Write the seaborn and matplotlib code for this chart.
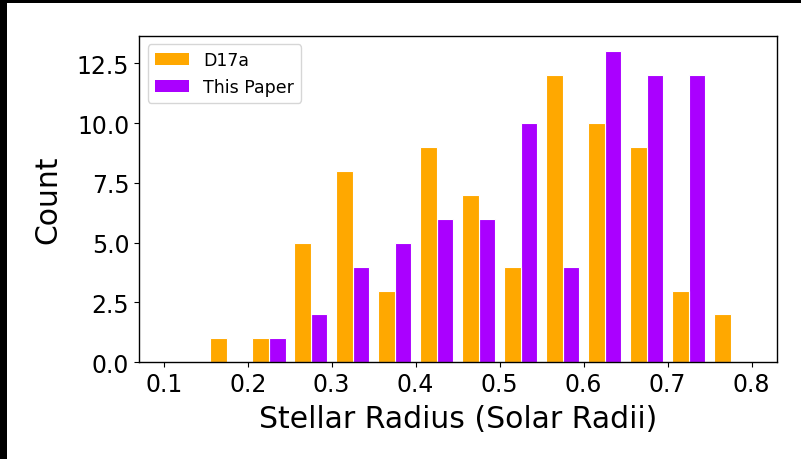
import matplotlib
matplotlib.use("Agg")
import matplotlib.pyplot as plt
from matplotlib.patches import Patch, Rectangle
import pandas as pd
import seaborn as sns

# Histogram bins (stellar radius, solar radii)
bin_edges = [0.15, 0.20, 0.25, 0.30, 0.35, 0.40, 0.45, 0.50,
             0.55, 0.60, 0.65, 0.70, 0.75, 0.80]
# Counts per bin for each sample
d17a_counts = [1, 1, 5, 8, 3, 9, 7, 4, 12, 10, 9, 3, 2]
this_paper_counts = [0, 1, 2, 4, 5, 6, 6, 10, 4, 13, 12, 12, 0]
series_names = ["D17a", "This Paper"]
series_colors = ["#FFA800", "#AA00FF"]
x_ticks = [0.1, 0.2, 0.3, 0.4, 0.5, 0.6, 0.7, 0.8]
y_ticks = [0.0, 2.5, 5.0, 7.5, 10.0, 12.5]

centers = [(a + b) / 2 for a, b in zip(bin_edges[:-1], bin_edges[1:])]
df = pd.DataFrame({
    "radius": centers * 2,
    "count": d17a_counts + this_paper_counts,
    "source": [series_names[0]] * len(centers) + [series_names[1]] * len(centers),
})

fig = plt.figure(figsize=(8.01, 4.60), dpi=100, facecolor="black")
# white canvas inset from the black top and left edges
fig.add_artist(Rectangle((7 / 801, 0), 1, 1 - 4 / 460,
                         transform=fig.transFigure, facecolor="white",
                         edgecolor="none", zorder=-10))
ax = fig.add_axes([0.1735, 0.2102, 0.9697 - 0.1735, 0.9202 - 0.2102])

sns.histplot(data=df, x="radius", weights="count", hue="source",
             hue_order=series_names, palette=series_colors,
             bins=bin_edges, multiple="dodge", shrink=0.8,
             edgecolor="#ffffff", linewidth=0.8, alpha=1.0,
             legend=False, ax=ax)

ax.set_xlim(0.0705, 0.830)
ax.set_xticks(x_ticks)
ax.set_xticklabels([f"{t:.1f}" for t in x_ticks])
ax.set_yticks(y_ticks)
ax.set_yticklabels([f"{t:.1f}" for t in y_ticks])
ax.tick_params(labelsize=17)
ax.set_xlabel("Stellar Radius (Solar Radii)", fontsize=21.5, labelpad=6)
ax.set_ylabel("Count", fontsize=21.5, labelpad=10)
for s in ax.spines.values():
    s.set_color("black")
    s.set_linewidth(1.0)

handles = [Patch(facecolor=c, edgecolor="none") for c in series_colors]
ax.legend(handles, series_names, loc="upper left", fontsize=12.5)

fig.savefig("out.png", dpi=100, facecolor=fig.get_facecolor())
